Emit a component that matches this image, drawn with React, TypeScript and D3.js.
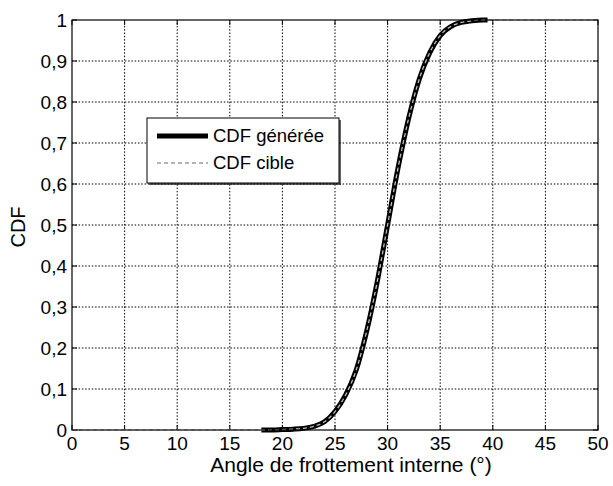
import React from "react";
import * as d3 from "d3";

const xTicks = [0, 5, 10, 15, 20, 25, 30, 35, 40, 45, 50];
const yTicks = [0, 0.1, 0.2, 0.3, 0.4, 0.5, 0.6, 0.7, 0.8, 0.9, 1];
const yTickLabels = ["0", "0,1", "0,2", "0,3", "0,4", "0,5", "0,6", "0,7", "0,8", "0,9", "1"];

// CDF générée
const genX = [18, 19, 20, 21, 22, 23, 24, 25, 26, 27, 28, 29, 30, 31, 32, 33, 34, 35, 36, 37, 38, 39, 39.5];
const genY = [0, 0, 0.001, 0.002, 0.004, 0.009, 0.02, 0.045, 0.085, 0.145, 0.24, 0.36, 0.5, 0.64, 0.76, 0.855, 0.92, 0.962, 0.984, 0.994, 0.998, 1, 1];

// CDF cible
const tgtX = [0, 5, 10, 15, 18, 20, 21, 22, 23, 24, 25, 26, 27, 28, 29, 30, 31, 32, 33, 34, 35, 36, 37, 38, 39, 40, 45, 50];
const tgtY = [0, 0, 0, 0, 0, 0.001, 0.002, 0.004, 0.009, 0.02, 0.045, 0.085, 0.145, 0.24, 0.36, 0.5, 0.64, 0.76, 0.855, 0.92, 0.962, 0.984, 0.994, 0.998, 1, 1, 1, 1];

const seriesNames = ["CDF générée", "CDF cible"];
const xLabel = "Angle de frottement interne (°)";
const yLabel = "CDF";

export default function App() {
  const W = 613, H = 486;
  const L = 72, R = 598, T = 20, B = 430;
  const x = d3.scaleLinear().domain([0, 50]).range([L, R]);
  const y = d3.scaleLinear().domain([0, 1]).range([B, T]);
  const line = d3.line<[number, number]>().x(d => x(d[0])).y(d => y(d[1])).curve(d3.curveMonotoneX);
  const gen = line(genX.map((v, i) => [v, genY[i]] as [number, number])) || "";
  const tgt = line(tgtX.map((v, i) => [v, tgtY[i]] as [number, number])) || "";
  const font = "'Liberation Sans', Arial, sans-serif";
  const grid = "1.5,1.8";
  const lg = { x0: 147, y0: 118, x1: 339, y1: 183 };
  return (
    <svg width={W} height={H} style={{ position: "absolute", left: 0, top: 0, background: "#fff" }} fontFamily={font}>
      <rect x={0} y={0} width={W} height={H} fill="#fff" />
      {xTicks.slice(1, -1).map(t => (
        <line key={"gx" + t} x1={x(t)} x2={x(t)} y1={B} y2={T} stroke="#000" strokeWidth={1} strokeDasharray={grid} />
      ))}
      {yTicks.slice(1, -1).map(t => (
        <line key={"gy" + t} x1={L} x2={R} y1={y(t)} y2={y(t)} stroke="#000" strokeWidth={1} strokeDasharray={grid} />
      ))}
      {xTicks.map(t => (
        <g key={"tx" + t}>
          <line x1={x(t)} x2={x(t)} y1={B} y2={B - 5} stroke="#000" />
          <line x1={x(t)} x2={x(t)} y1={T} y2={T + 5} stroke="#000" />
          <text x={x(t)} y={450} textAnchor="middle" fontSize={19} fill="#000">{t}</text>
        </g>
      ))}
      {yTicks.map((t, i) => (
        <g key={"ty" + t}>
          <line x1={L} x2={L + 5} y1={y(t)} y2={y(t)} stroke="#000" />
          <line x1={R} x2={R - 5} y1={y(t)} y2={y(t)} stroke="#000" />
          <text x={L - 5} y={y(t)} dy="0.35em" textAnchor="end" fontSize={19} fill="#000">{yTickLabels[i]}</text>
        </g>
      ))}
      <path d={gen} fill="none" stroke="#000" strokeWidth={5} strokeLinejoin="round" />
      <path d={tgt} fill="none" stroke="#bdbdbd" strokeWidth={1.3} strokeDasharray="4,3" />
      <rect x={L} y={T} width={R - L} height={B - T} fill="none" stroke="#000" strokeWidth={1.2} />
      <text x={351} y={472} textAnchor="middle" fontSize={21} fill="#000">{xLabel}</text>
      <text transform={`translate(25,${(T + B) / 2 + 2}) rotate(-90)`} textAnchor="middle" fontSize={20} fill="#000">{yLabel}</text>
      <g>
        <rect x={lg.x0 + 2} y={lg.y0 + 2} width={lg.x1 - lg.x0} height={lg.y1 - lg.y0} fill="#000" opacity={0.6} />
        <rect x={lg.x0} y={lg.y0} width={lg.x1 - lg.x0} height={lg.y1 - lg.y0} fill="#fff" stroke="#000" strokeWidth={1} />
        <line x1={157} x2={208} y1={136} y2={136} stroke="#000" strokeWidth={5} />
        <text x={213} y={136} dy="0.35em" fontSize={18.5} fill="#000">{seriesNames[0]}</text>
        <line x1={157} x2={208} y1={163} y2={163} stroke="#9a9a9a" strokeWidth={1.3} strokeDasharray="4,3" />
        <text x={213} y={163} dy="0.35em" fontSize={18.5} fill="#000">{seriesNames[1]}</text>
      </g>
    </svg>
  );
}
